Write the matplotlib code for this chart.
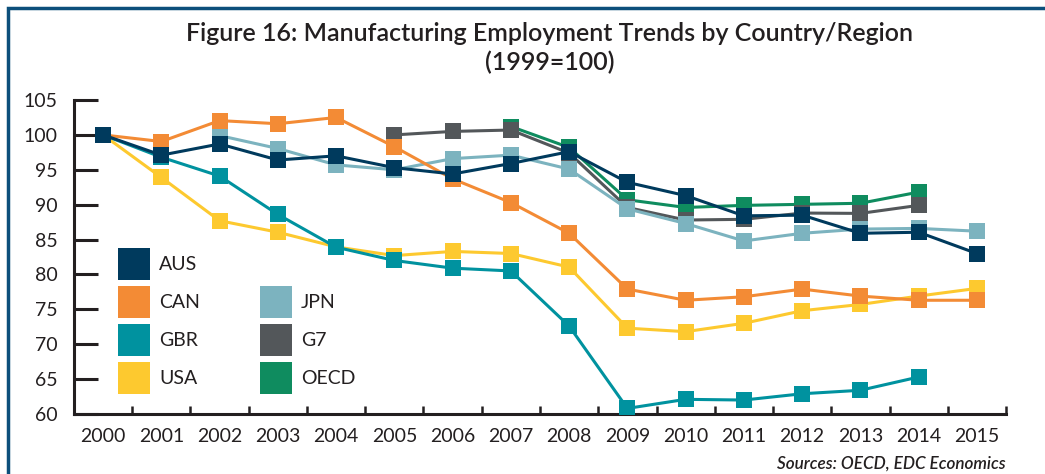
import numpy as np
import matplotlib
matplotlib.use('Agg')
import matplotlib.pyplot as plt
from matplotlib.patches import Patch, Rectangle

plt.rcParams['font.family'] = ['Lato', 'DejaVu Sans']

years = [str(y) for y in range(2000, 2016)]
nan = np.nan

aus = [100, 97.1, 98.7, 96.4, 97.0, 95.3, 94.4, 95.9, 97.6, 93.2, 91.3, 88.4, 88.5, 85.9, 86.05, 83.0]
can = [100, 99.05, 102.05, 101.6, 102.5, 98.3, 93.7, 90.3, 85.9, 77.9, 76.3, 76.8, 77.9, 76.9, 76.3, 76.3]
gbr = [100, 96.8, 94.1, 88.6, 83.9, 82.0, 80.9, 80.5, 72.6, 60.8, 62.1, 62.0, 62.9, 63.4, 65.3, nan]
usa = [100, 93.9, 87.7, 86.05, 83.95, 82.7, 83.3, 83.0, 81.05, 72.3, 71.8, 73.0, 74.8, 75.7, 76.9, 78.0]
jpn = [nan, nan, 99.9, 98.05, 95.7, 95.0, 96.6, 97.1, 95.1, 89.4, 87.3, 84.8, 85.9, 86.5, 86.6, 86.2]
g7 = [nan, nan, nan, nan, nan, 100.0, 100.5, 100.7, 97.4, 89.6, 87.8, 87.9, 88.8, 88.75, 89.9, nan]
oecd = [nan, nan, nan, nan, nan, nan, nan, 101.2, 98.2, 90.7, 89.6, 89.9, 90.05, 90.2, 91.8, nan]

series = [
    ('AUS', aus, '#003a5d'),
    ('CAN', can, '#f38b35'),
    ('GBR', gbr, '#00929f'),
    ('USA', usa, '#fdc92f'),
    ('JPN', jpn, '#7cb3bf'),
    ('G7', g7, '#53575a'),
    ('OECD', oecd, '#0f8c5f'),
]

ink = '#231f20'

fig = plt.figure(figsize=(10.45, 4.74), dpi=100)
ax = fig.add_axes([0.0708, 0.1266, 0.8919, 0.6624])

x = np.arange(len(years))
n = len(series)
for i, (name, vals, col) in enumerate(series):
    # first series on top, like the original chart
    ax.plot(x, vals, color=col, lw=2.2, marker='s', markersize=11,
            markeredgewidth=0, zorder=10 + (n - i), solid_joinstyle='miter')

ax.set_xlim(-0.5, len(years) - 0.5)
ax.set_ylim(60, 105)
ax.set_yticks(np.arange(60, 106, 5))
ax.set_xticks(x)
ax.set_xticklabels(years)
ax.set_xticks(np.arange(-0.5, len(years), 1.0), minor=True)

for s in ['top', 'right']:
    ax.spines[s].set_visible(False)
for s in ['left', 'bottom']:
    ax.spines[s].set_linewidth(2.2)
    ax.spines[s].set_color(ink)
    ax.spines[s].set_capstyle('projecting')

ax.tick_params(axis='y', direction='in', length=17, width=2.2, color=ink,
               labelsize=14, labelcolor=ink, pad=12)
ax.tick_params(axis='x', which='major', length=0, labelsize=14, labelcolor=ink, pad=10)
ax.tick_params(axis='x', which='minor', direction='in', length=6, width=1.8, color=ink)

handles = []
for name, vals, col in series[:4]:
    handles.append(Patch(facecolor=col, edgecolor='none', label=name))
handles.append(Patch(facecolor='none', edgecolor='none', label=' '))
for name, vals, col in series[4:]:
    handles.append(Patch(facecolor=col, edgecolor='none', label=name))

leg = ax.legend(handles=handles, ncol=2, loc='lower left', bbox_to_anchor=(0.037, 0.032),
                frameon=False, fontsize=14, handlelength=1.65, handleheight=2.15,
                handletextpad=0.45, labelspacing=0.31, columnspacing=3.1, borderpad=0,
                labelcolor=ink)
leg.set_zorder(30)

fig.text(0.526, 0.930, 'Figure 16: Manufacturing Employment Trends by Country/Region',
         ha='center', va='center', fontsize=18, color=ink, fontweight='semibold')
fig.text(0.526, 0.869, '(1999=100)', ha='center', va='center', fontsize=18,
         color=ink, fontweight='semibold')
fig.text(0.9627, 0.023, 'Sources: OECD, EDC Economics', ha='right', va='center',
         fontsize=12.3, fontstyle='italic', fontweight='semibold', color=ink)

fig.patches.append(Rectangle((8 / 1045, -0.2), 1.5, 1 - 8 / 474 + 0.2,
                             transform=fig.transFigure, fill=False,
                             edgecolor='#0c4f7b', lw=2.5))

fig.savefig('out.png', dpi=100)
